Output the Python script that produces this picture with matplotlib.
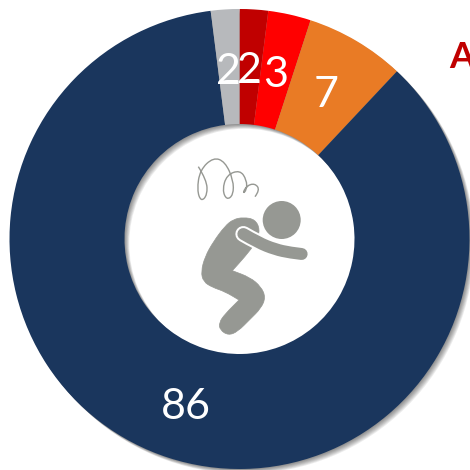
import matplotlib
matplotlib.use("Agg")
import matplotlib.pyplot as plt
from matplotlib.patches import Circle, Wedge, PathPatch
from matplotlib.path import Path

# donut values, clockwise from 12 o'clock
labels = ["2", "3", "7", "86", "2"]
values = [2, 3, 7, 86, 2]
colors = ["#C00000", "#FF0000", "#E97B25", "#1A365D", "#B7B9BC"]
heading = "A"

W = 470
cx, cy, R = 239.5, 239, 230
hole = 115
icon_col = "#969893"

plt.rcParams['font.family'] = ['Lato', 'DejaVu Sans']

fig = plt.figure(figsize=(4.7, 4.7), dpi=100)
ax = fig.add_axes([0, 0, 1, 1])
ax.set_xlim(0, W)
ax.set_ylim(W, 0)   # same coords as picture pixels
ax.set_aspect('equal')
ax.axis('off')

# soft shadow under the ring, down and right
for i in range(7):
    off = 0.6 + i * 0.7
    ax.add_patch(Wedge((cx + off, cy + off), R, 0, 360, width=R - hole,
                       fc="#000000", alpha=0.075, lw=0, zorder=1))

wedges, _ = ax.pie(values, colors=colors, center=(cx, cy), radius=R, startangle=-90,
                   counterclock=True, frame=True,
                   wedgeprops=dict(width=R - hole, lw=0, zorder=2))
ax.set_xlim(0, W)
ax.set_ylim(W, 0)
ax.axis('off')

label_pos = [(249, 71), (276, 75), (326, 95), (186, 407), (228, 72)]
for txt, (x, y) in zip(labels, label_pos):
    ax.text(x, y, txt, color="white", fontsize=31, ha='center', va='center', zorder=5)

ax.text(449, 57, heading, color="#C00000", fontsize=26, fontweight='bold',
        ha='left', va='center', zorder=5)

# person icon
def z(pts):
    return [(125 + a / 3, 140 + b / 3) for a, b in pts]

def smooth(pts, closed=False):
    # quadratic curves through the midpoints
    if closed:
        start = ((pts[-1][0] + pts[0][0]) / 2, (pts[-1][1] + pts[0][1]) / 2)
        seq = pts + [pts[0]]
        rest = list(zip(seq[:-1], seq[1:]))
    else:
        start = pts[0]
        rest = list(zip(pts[1:-1], pts[2:-1] + [pts[-1]]))
    verts = [start]
    codes = [Path.MOVETO]
    for i, (a, b) in enumerate(rest):
        end = b if (not closed and i == len(rest) - 1) else ((a[0] + b[0]) / 2, (a[1] + b[1]) / 2)
        verts += [a, end]
        codes += [Path.CURVE3, Path.CURVE3]
    return Path(verts, codes)

ax.add_patch(Circle((281.7, 220), 19, fc=icon_col, lw=0, zorder=4))

body = z([(228, 395), (240, 350), (265, 305), (300, 258), (325, 238), (355, 232), (390, 238),
          (405, 268), (395, 305), (360, 350), (322, 392), (322, 392), (375, 412), (408, 440),
          (422, 472), (408, 505), (375, 538), (338, 575), (310, 586), (285, 570), (282, 548),
          (300, 522), (342, 480), (342, 480), (300, 455), (262, 442), (235, 425)])
ax.add_patch(PathPatch(smooth(body, closed=True), fc=icon_col, ec=icon_col, lw=0.5, zorder=4))

arm = z([(355, 282), (400, 308), (450, 328), (495, 338), (530, 342)])
arm_path = smooth(arm)
ax.add_patch(PathPatch(arm_path, fc='none', ec="white", lw=11.5, capstyle='round', zorder=4.1))
ax.add_patch(PathPatch(arm_path, fc='none', ec=icon_col, lw=8.6, capstyle='round', zorder=4.2))

# squiggle above the head
sq = z([(220, 80), (245, 120), (247, 165), (228, 185), (216, 150), (225, 90), (265, 52),
        (300, 65), (325, 120), (325, 165), (305, 180), (292, 150), (305, 105), (345, 90),
        (365, 120), (365, 150), (352, 162), (365, 137), (390, 130), (405, 150), (390, 170)])
ax.add_patch(PathPatch(smooth(sq), fc='none', ec=icon_col, lw=1, zorder=4))

fig.savefig("out.png", dpi=100)
